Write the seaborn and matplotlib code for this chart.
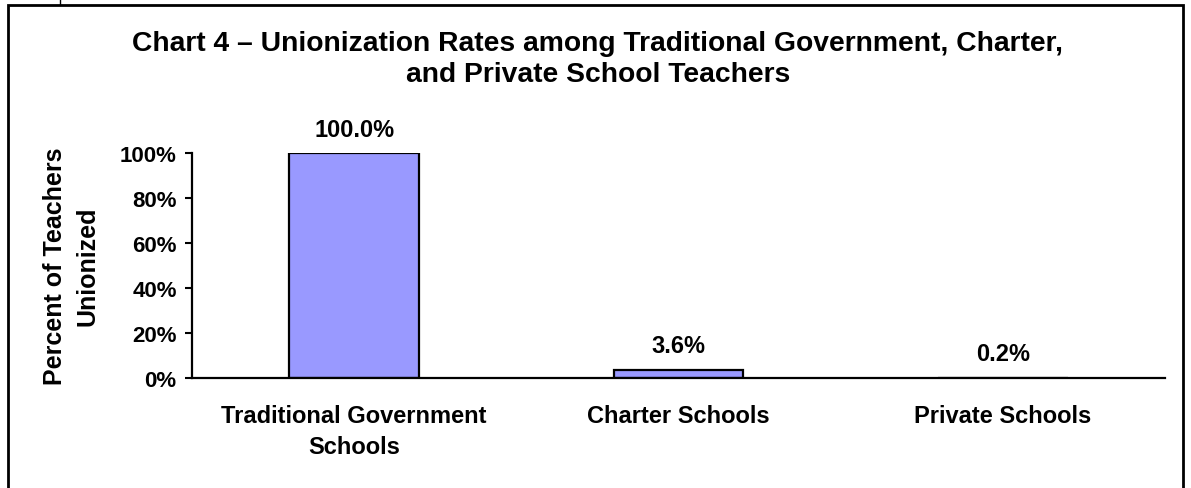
import matplotlib
matplotlib.use("Agg")
import matplotlib.pyplot as plt
import seaborn as sns
import pandas as pd
from matplotlib.patches import Rectangle
from matplotlib.lines import Line2D

categories = ["Traditional Government\nSchools", "Charter Schools", "Private Schools"]
values = [100.0, 3.6, 0.2]
value_labels = ["100.0%", "3.6%", "0.2%"]
yticks = [0, 20, 40, 60, 80, 100]
ytick_labels = ["0%", "20%", "40%", "60%", "80%", "100%"]
title = "Chart 4 \u2013 Unionization Rates among Traditional Government, Charter,\nand Private School Teachers"
ylabel = "Percent of Teachers\nUnionized"

sns.set_style("white")
plt.rcParams["font.family"] = ["Liberation Sans", "DejaVu Sans"]
plt.rcParams["font.weight"] = "bold"
for k in ["text.color", "axes.labelcolor", "xtick.color", "ytick.color"]:
    plt.rcParams[k] = "black"

fig = plt.figure(figsize=(11.91, 4.89), dpi=100)
ax = fig.add_axes([192/1191, 1-379/489, (1165-192)/1191, (379-154)/489])

df = pd.DataFrame({"cat": categories, "val": values})
sns.barplot(data=df, x="cat", y="val", color="#9999FF", saturation=1,
            edgecolor="black", linewidth=1.6, width=0.4, ax=ax)

ax.set_xlim(-0.5, 2.5)
ax.set_ylim(0, 100)
ax.set_yticks(yticks)
ax.set_yticklabels(ytick_labels, fontsize=16, fontweight="bold")
ax.tick_params(axis="y", direction="out", length=5, width=1.5, color="black", pad=6, left=True)
ax.tick_params(axis="x", length=0, pad=19, labelsize=17)
for lab in ax.get_xticklabels():
    lab.set_fontweight("bold")
    lab.set_linespacing(1.4)
ax.set_xlabel("")
ax.set_ylabel(ylabel, fontsize=18, fontweight="bold", labelpad=15, linespacing=1.4)
for s in ["top", "right"]:
    ax.spines[s].set_visible(False)
for s in ["left", "bottom"]:
    ax.spines[s].set_linewidth(1.6)
    ax.spines[s].set_color("black")

for p, lab in zip(ax.patches, value_labels):
    ax.annotate(lab, (p.get_x() + p.get_width()/2, p.get_height()),
                xytext=(0, 9), textcoords="offset points", ha="center", va="bottom",
                fontsize=17, fontweight="bold", annotation_clip=False)

fig.text(598/1191, 1-31/489, title, ha="center", va="top", fontsize=20.3,
         fontweight="bold", linespacing=1.25)

fig.patches.append(Rectangle((8/1191, -0.02), (1183-8)/1191, 1-6/489+0.02,
                             transform=fig.transFigure, fill=False,
                             edgecolor="black", linewidth=2))
fig.lines.append(Line2D([60/1191, 60/1191], [1-6/489, 1.0], transform=fig.transFigure,
                        color="black", linewidth=1))

fig.savefig("out.png", dpi=100)
